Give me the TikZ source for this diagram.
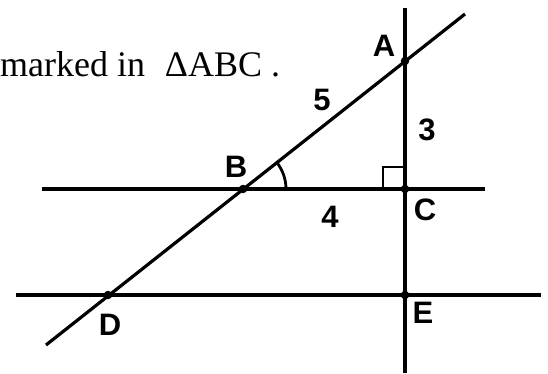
\documentclass[tikz,border=0pt]{standalone}
\usepackage{fontspec}
\setmainfont{Liberation Serif}
\newfontfamily\labfont{Liberation Sans}
\usetikzlibrary{angles}
\tikzset{
  geoline/.style={line width=3.2pt, line cap=butt},
  ptdot/.style={circle, fill=black, inner sep=0pt, minimum size=8.5pt},
  lab/.style={font=\labfont\bfseries\fontsize{31}{34}\selectfont, inner sep=0pt},
}
\begin{document}
\begin{tikzpicture}[x=1pt,y=-1pt]
\useasboundingbox (0,0) rectangle (548,373);
% points
\coordinate (A) at (405,61);
\coordinate (B) at (243,189);
\coordinate (C) at (405,189);
\coordinate (D) at (108,295);
\coordinate (E) at (405,295);
% line ends
\coordinate (vtop) at (405,8);
\coordinate (vbot) at (405,373);
\coordinate (dtop) at (465,14);
\coordinate (dbot) at (46,345);
\coordinate (hlL) at (42,189);
\coordinate (hlR) at (485,189);
\coordinate (llL) at (16,295);
\coordinate (llR) at (541,295);
% lines
\draw[geoline] (vtop) -- (vbot);
\draw[geoline] (dbot) -- (dtop);
\draw[geoline] (hlL) -- (hlR);
\draw[geoline] (llL) -- (llR);
% right angle
\draw[line width=2.8pt] ([xshift=-22pt]C) -- ++(0,-22) -- ++(22,0);
% angle arc
\pic[draw, line width=2.8pt, angle radius=43pt] {angle = C--B--A};
% dots
\foreach \p in {A,B,C,D,E} \node[ptdot] at (\p) {};
% labels
\node[lab] (lA) at (384,46) {A};
\node[lab] (lB) at (236,167) {B};
\node[lab] (lC) at (425,210) {C};
\node[lab] (lD) at (110,325) {D};
\node[lab] (lE) at (423,313) {E};
\node[lab] (l5) at (322,100) {5};
\node[lab] (l3) at (427,130) {3};
\node[lab] (l4) at (330,217) {4};
% text
\node[anchor=base west, inner sep=0pt, font=\fontsize{36}{40}\selectfont] (txt) at (0,76) {marked in\hspace{0.3em} ΔABC\hspace{0.25em}.};
\end{tikzpicture}
\end{document}
